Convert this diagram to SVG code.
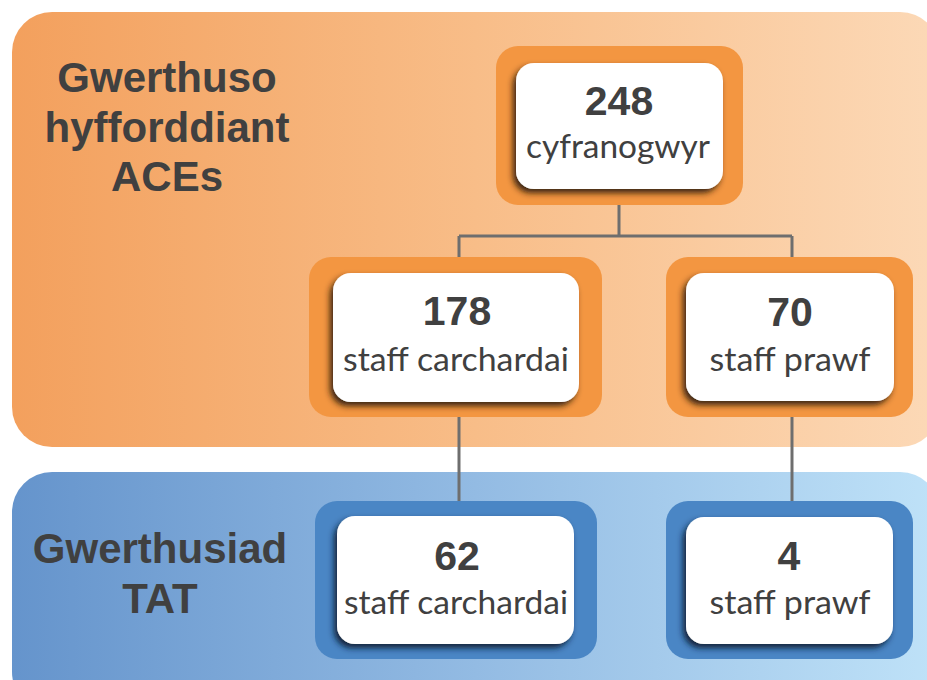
<svg xmlns="http://www.w3.org/2000/svg" width="927" height="680" viewBox="0 0 927 680">
  <defs>
    <linearGradient id="gOrange" x1="0" y1="0" x2="1" y2="0">
      <stop offset="0" stop-color="#f3a05d"/>
      <stop offset="0.5" stop-color="#f8bd88"/>
      <stop offset="1" stop-color="#fcd9b7"/>
    </linearGradient>
    <linearGradient id="gBlue" x1="0" y1="0" x2="1" y2="0">
      <stop offset="0" stop-color="#6594cc"/>
      <stop offset="0.5" stop-color="#93bbe3"/>
      <stop offset="1" stop-color="#bfe2f8"/>
    </linearGradient>
    <filter id="shO" x="-20%" y="-20%" width="140%" height="150%">
      <feDropShadow dx="-3" dy="4" stdDeviation="3" flood-color="#2e1a08" flood-opacity="0.95"/>
    </filter>
    <filter id="shB" x="-20%" y="-20%" width="140%" height="150%">
      <feDropShadow dx="-3" dy="4" stdDeviation="3" flood-color="#0c1c30" flood-opacity="0.95"/>
    </filter>
  </defs>
  <style>
    .panelTitle { font-family: "Liberation Sans", Arial, sans-serif; font-weight: bold; font-size: 42px; fill: #404040; text-anchor: middle; }
    .num { font-family: "Liberation Sans", Arial, sans-serif; font-weight: bold; font-size: 41px; fill: #404040; text-anchor: middle; }
    .lbl { font-family: Lato, "Open Sans", sans-serif; font-size: 32px; fill: #404040; text-anchor: middle; }
    .oOuter { fill: #f39641; }
    .bOuter { fill: #4a86c5; }
    .inner { fill: #ffffff; }
    .conn { stroke: #6e6e6e; stroke-width: 3; fill: none; }
  </style>

  <rect width="927" height="680" fill="#ffffff"/>

  <g id="panel-aces">
    <rect x="12" y="12" width="928" height="435" rx="40" fill="url(#gOrange)"/>
    <text class="panelTitle" x="167" y="92">Gwerthuso</text>
    <text class="panelTitle" x="167" y="142">hyfforddiant</text>
    <text class="panelTitle" x="167" y="191">ACEs</text>
  </g>

  <g id="panel-tat">
    <rect x="12" y="472" width="928" height="240" rx="40" fill="url(#gBlue)"/>
    <text class="panelTitle" x="160" y="563">Gwerthusiad</text>
    <text class="panelTitle" x="160" y="613">TAT</text>
  </g>

  <g id="connectors">
    <path class="conn" d="M619 205 V236 M459 236 H792 M459 236 V257 M792 236 V257"/>
    <path class="conn" d="M459 417 V501"/>
    <path class="conn" d="M792 417 V501"/>
  </g>

  <g id="node-248">
    <rect class="oOuter" x="496" y="46" width="247" height="159" rx="22"/>
    <rect class="inner" x="516" y="63" width="207" height="126" rx="18" filter="url(#shO)"/>
    <text class="num" x="619" y="115">248</text>
    <text class="lbl" x="618" y="158" textLength="184" lengthAdjust="spacingAndGlyphs">cyfranogwyr</text>
  </g>

  <g id="node-178">
    <rect class="oOuter" x="309" y="257" width="293" height="160" rx="22"/>
    <rect class="inner" x="333" y="273" width="246" height="129" rx="18" filter="url(#shO)"/>
    <text class="num" x="457" y="325">178</text>
    <text class="lbl" x="456" y="371" textLength="226" lengthAdjust="spacingAndGlyphs">staff carchardai</text>
  </g>

  <g id="node-70">
    <rect class="oOuter" x="666" y="257" width="247" height="160" rx="22"/>
    <rect class="inner" x="686" y="273" width="208" height="128" rx="18" filter="url(#shO)"/>
    <text class="num" x="790" y="326">70</text>
    <text class="lbl" x="790" y="371" textLength="161" lengthAdjust="spacingAndGlyphs">staff prawf</text>
  </g>

  <g id="node-62">
    <rect class="bOuter" x="315" y="501" width="282" height="158" rx="22"/>
    <rect class="inner" x="337" y="516" width="237" height="128" rx="18" filter="url(#shB)"/>
    <text class="num" x="457" y="570">62</text>
    <text class="lbl" x="456" y="614" textLength="224" lengthAdjust="spacingAndGlyphs">staff carchardai</text>
  </g>

  <g id="node-4">
    <rect class="bOuter" x="666" y="501" width="247" height="158" rx="22"/>
    <rect class="inner" x="686" y="517" width="207" height="127" rx="18" filter="url(#shB)"/>
    <text class="num" x="789" y="570">4</text>
    <text class="lbl" x="790" y="614" textLength="161" lengthAdjust="spacingAndGlyphs">staff prawf</text>
  </g>
</svg>
